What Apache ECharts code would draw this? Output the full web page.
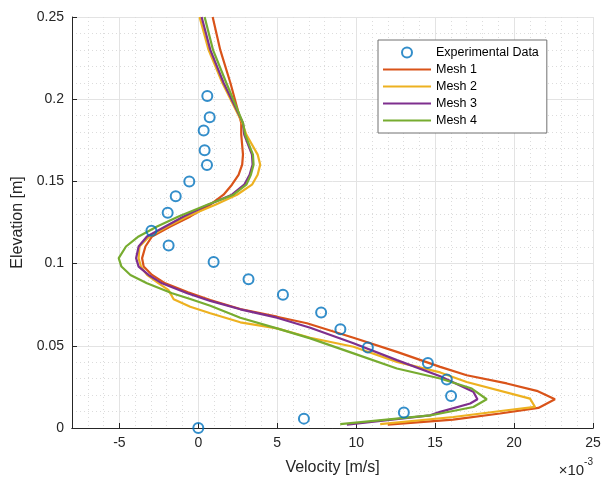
<!DOCTYPE html>
<html>
<head>
<meta charset="utf-8">
<script src="https://cdn.jsdelivr.net/npm/echarts@6/dist/echarts.min.js"></script>
<style>
  html, body { margin: 0; padding: 0; background: #fff; }
  #main { width: 602px; height: 481px; }
</style>
</head>
<body>
<div id="main"></div>
<script>
// velocity values are in units of 1e-3 m/s (axis shows x10^-3)
var expVel  = [0.57, 0.72, 0.34, 0.40, 0.55, -0.57, -1.43, -1.94, -2.97, -1.88, 0.97, 3.18, 5.36, 7.78, 9.0, 10.74, 14.54, 15.74, 16.01, 13.02, 6.69, 0.0];
var expElev = [0.202, 0.189, 0.181, 0.169, 0.16, 0.15, 0.141, 0.131, 0.12, 0.111, 0.101, 0.0905, 0.081, 0.0703, 0.06, 0.049, 0.0396, 0.0295, 0.0195, 0.0094, 0.0057, 0];

var mesh1Elev = [0.25, 0.23, 0.21, 0.1856, 0.1785, 0.1663, 0.1602, 0.154, 0.148, 0.1419, 0.1358, 0.1287, 0.1226, 0.1165, 0.1104, 0.1033, 0.0982, 0.0931, 0.088, 0.0826, 0.0779, 0.0724, 0.0677, 0.0637, 0.0549, 0.0463, 0.0372, 0.0321, 0.0271, 0.0226, 0.0175, 0.0122, 0.0088, 0.0051, 0.002];
var mesh1Vel  = [0.91, 1.39, 2.03, 2.72, 2.72, 2.83, 2.78, 2.55, 2.13, 1.6, 0.76, -0.5, -1.77, -2.93, -3.35, -3.56, -3.46, -2.93, -2.09, -0.65, 0.76, 2.66, 4.98, 6.88, 9.83, 12.58, 15.32, 17.0, 19.54, 21.44, 22.59, 21.54, 19.11, 16.14, 12.0];

var mesh2Elev = [0.25, 0.23, 0.21, 0.1856, 0.1785, 0.1663, 0.1602, 0.154, 0.148, 0.1419, 0.1358, 0.1287, 0.1226, 0.1165, 0.1104, 0.1033, 0.0982, 0.0931, 0.088, 0.084, 0.0783, 0.0738, 0.0698, 0.0643, 0.0606, 0.0549, 0.0494, 0.0402, 0.0338, 0.028, 0.0179, 0.0128, 0.0108, 0.0067, 0.0023];
var mesh2Vel  = [0.08, 0.65, 1.52, 2.78, 3.04, 3.76, 3.92, 3.76, 3.4, 2.45, 1.08, -0.7, -1.96, -3.1, -3.73, -3.78, -3.63, -3.25, -2.51, -1.9, -1.56, -0.51, 0.76, 2.66, 4.98, 7.09, 9.83, 12.58, 15.32, 17.0, 21.01, 21.33, 19.54, 16.16, 11.52];

var mesh3Elev = [0.25, 0.23, 0.21, 0.1856, 0.1785, 0.1663, 0.1602, 0.154, 0.148, 0.1419, 0.1358, 0.1287, 0.1226, 0.1165, 0.1104, 0.1033, 0.0982, 0.0931, 0.088, 0.082, 0.0773, 0.0722, 0.0671, 0.061, 0.0515, 0.0413, 0.0315, 0.022, 0.0175, 0.0149, 0.0098, 0.0077, 0.0021];
var mesh3Vel  = [0.21, 0.76, 1.6, 2.83, 2.91, 3.4, 3.44, 3.25, 2.91, 2.13, 0.63, -0.93, -2.09, -3.25, -3.78, -3.94, -3.78, -3.15, -2.3, -0.7, 0.76, 2.66, 4.98, 7.09, 9.83, 12.58, 15.32, 17.42, 17.68, 17.22, 15.32, 14.68, 9.41];

var mesh4Elev = [0.25, 0.23, 0.21, 0.1856, 0.1785, 0.1663, 0.1602, 0.154, 0.148, 0.1419, 0.1358, 0.1287, 0.1226, 0.1165, 0.1104, 0.1033, 0.0982, 0.0931, 0.088, 0.082, 0.0785, 0.0744, 0.0671, 0.0606, 0.0545, 0.0454, 0.0362, 0.0301, 0.024, 0.0175, 0.0128, 0.0088, 0.0077, 0.0023];
var mesh4Vel  = [0.4, 0.93, 1.77, 2.83, 2.97, 3.46, 3.5, 3.33, 3.04, 2.23, 0.57, -1.25, -2.61, -3.78, -4.58, -5.04, -4.87, -4.3, -3.25, -1.66, -0.51, 0.76, 2.66, 4.98, 7.09, 9.83, 12.58, 15.32, 17.32, 18.27, 17.42, 15.32, 14.68, 8.99];

var xTicks = [-5, 0, 5, 10, 15, 20, 25];

var seriesNames = ['Experimental Data', 'Mesh 1', 'Mesh 2', 'Mesh 3', 'Mesh 4'];
var colors = ['#0072BD', '#D95319', '#EDB120', '#7E2F8E', '#77AC30'];

function pairs(xs, ys) {
    return xs.map(function (x, i) { return [x, ys[i]]; });
}

var font = 'Liberation Sans, Arial, Helvetica, sans-serif';
var axisColor = '#262626';

var myChart = echarts.init(document.getElementById('main'));

function meshSeries(idx, xs, ys) {
    return {
        name: seriesNames[idx],
        type: 'line',
        xAxisIndex: 0,
        symbol: 'none',
        showSymbol: false,
        lineStyle: { color: colors[idx], width: 2.2 },
        itemStyle: { color: colors[idx] },
        data: pairs(xs, ys)
    };
}

// legend entries: line items get an invisible symbol so only the line shows
var legendData = seriesNames.map(function (n, i) {
    if (i === 0) return { name: n };
    return { name: n, itemStyle: { color: 'rgba(0,0,0,0)', borderWidth: 0, opacity: 0 } };
});

var option = {
    animation: false,
    textStyle: { fontFamily: font },
    grid: { left: 72, right: 9, top: 17, bottom: 53, containLabel: false, outerBoundsMode: 'none' },
    legend: {
        data: legendData,
        orient: 'vertical',
        left: 378,
        top: 40,
        itemWidth: 48,
        itemHeight: 10,
        itemGap: 4,
        padding: [6, 8, 6, 4],
        backgroundColor: '#fff',
        borderColor: '#707070',
        borderWidth: 1,
        textStyle: { fontSize: 12.5, color: '#000', fontFamily: font }
    },
    xAxis: [
        {   // minor grid
            type: 'value',
            min: -8, max: 25, interval: 1,
            axisLine: { show: true, onZero: false, lineStyle: { color: axisColor } },
            axisTick: { show: false },
            axisLabel: { show: false },
            splitLine: { show: true, lineStyle: { color: '#dcdcdc', type: [1, 3], width: 1 } }
        },
        {   // major ticks & labels
            type: 'value',
            position: 'bottom',
            min: -8, max: 25,
            name: 'Velocity [m/s]',
            nameLocation: 'middle',
            nameGap: 32,
            nameTextStyle: { fontSize: 16, color: axisColor, fontFamily: font },
            axisLine: { show: true, onZero: false, lineStyle: { color: axisColor } },
            axisTick: { show: true, inside: true, length: 5, customValues: xTicks, lineStyle: { color: axisColor } },
            axisLabel: { show: true, customValues: xTicks, margin: 8, fontSize: 14, color: axisColor, fontFamily: font },
            splitLine: { show: true, lineStyle: { color: '#e3e3e3', width: 1 } }
        }
    ],
    yAxis: {
        type: 'value',
        min: 0, max: 0.25, interval: 0.05,
        name: 'Elevation [m]',
        nameLocation: 'middle',
        nameGap: 43,
        nameTextStyle: { fontSize: 16, color: axisColor, fontFamily: font },
        axisLine: { show: true, onZero: false, lineStyle: { color: axisColor } },
        axisTick: { show: true, inside: true, length: 5, lineStyle: { color: axisColor } },
        axisLabel: { margin: 8, fontSize: 14, color: axisColor, fontFamily: font },
        splitLine: { show: true, lineStyle: { color: '#e3e3e3', width: 1 } },
        minorTick: { show: false, splitNumber: 5 },
        minorSplitLine: { show: true, lineStyle: { color: '#dcdcdc', type: [1, 3], width: 1 } }
    },
    graphic: [{
        type: 'text',
        right: 9,
        top: 457,
        style: {
            text: '{a|×10}{b|-3}',
            rich: {
                a: { fontSize: 15, fontFamily: font, fill: axisColor, verticalAlign: 'bottom', padding: [6, 0, 0, 0] },
                b: { fontSize: 10, fontFamily: font, fill: axisColor, verticalAlign: 'top' }
            }
        }
    }],
    series: [
        {
            name: seriesNames[0],
            type: 'scatter',
            xAxisIndex: 0,
            symbol: 'circle',
            symbolSize: 10,
            itemStyle: { color: 'rgba(0,0,0,0)', borderColor: colors[0], borderWidth: 2 },
            data: pairs(expVel, expElev),
            z: 3
        },
        meshSeries(1, mesh1Vel, mesh1Elev),
        meshSeries(2, mesh2Vel, mesh2Elev),
        meshSeries(3, mesh3Vel, mesh3Elev),
        meshSeries(4, mesh4Vel, mesh4Elev)
    ]
};

myChart.setOption(option);
window.onresize = myChart.resize;
</script>
</body>
</html>
